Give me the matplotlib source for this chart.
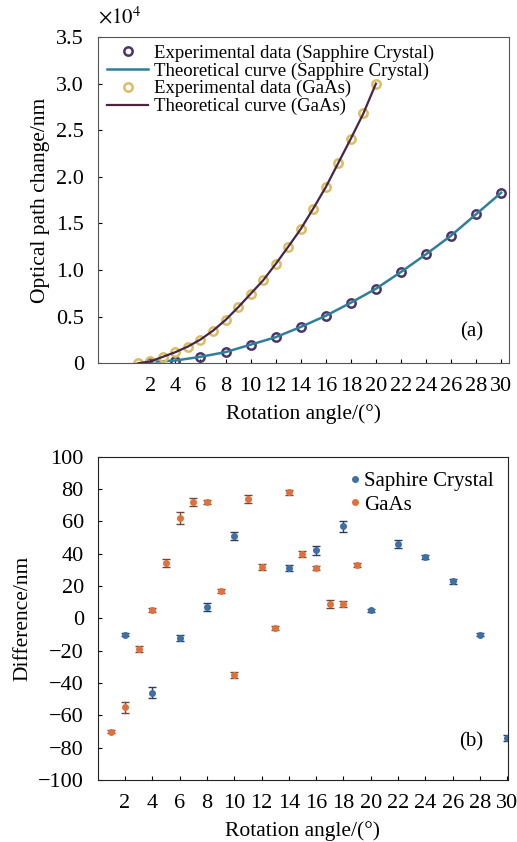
import numpy as np
import matplotlib
matplotlib.use("Agg")
import matplotlib.pyplot as plt
from matplotlib.ticker import FuncFormatter

plt.rcParams['font.family'] = ['Liberation Serif', 'DejaVu Serif']
plt.rcParams['mathtext.fontset'] = 'stix'

# ---- (a) optical path change, nm ----
angle_sap = [2, 4, 6, 8, 10, 12, 14, 16, 18, 20, 22, 24, 26, 28, 30]
opl_sap = [150, 300, 700, 1200, 2000, 2800, 3900, 5100, 6500, 8000,
           9800, 11700, 13700, 16000, 18300]
angle_gaas = list(range(1, 21))
opl_gaas = [0, 200, 700, 1200, 1800, 2550, 3500, 4650, 6000, 7450,
            8900, 10650, 12500, 14400, 16600, 18900, 21500, 24100, 26800, 30000]

# ---- (b) difference, nm ----
diff_sap_x = [2, 4, 6, 8, 10, 14, 16, 18, 20, 22, 24, 26, 28, 30]
diff_sap = [-10, -46, -12, 7, 51, 31, 42, 57, 5, 46, 38, 23, -10, -74]
diff_sap_err = [1.2, 3.5, 2, 2.5, 2.5, 1.8, 2.5, 3.5, 1, 2.5, 1.5, 1.5, 1, 1.8]
diff_gaas_x = list(range(1, 20))
diff_gaas = [-70, -55, -19, 5, 34, 62, 72, 72, 17, -35, 74, 32, -6, 78, 40, 31, 9, 9, 33]
diff_gaas_err = [1.2, 3.5, 1.8, 1.2, 2.5, 3.5, 2.5, 1.5, 1.2, 1.8, 2.5, 1.8, 1, 1.5, 1.8, 1.2, 2.5, 1.8, 1]

fig = plt.figure(figsize=(5.17, 8.42), dpi=100)

# top panel
ax1 = fig.add_axes([0.189, 0.5685, 0.795, 0.3875])
ax1.plot(angle_sap, opl_sap, 'o', ms=6, mfc='none', mec='#4a3468', mew=1.8,
         label='Experimental data (Sapphire Crystal)')
ax1.plot(angle_sap, opl_sap, '-', color='#2f7f9a', lw=1.8,
         label='Theoretical curve (Sapphire Crystal)')
ax1.plot(angle_gaas, opl_gaas, 'o', ms=6, mfc='none', mec='#d8bd62', mew=1.8,
         label='Experimental data (GaAs)')
ax1.plot(angle_gaas, opl_gaas, '-', color='#4a2345', lw=1.6,
         label='Theoretical curve (GaAs)')

ax1.set_xlim(-2.2, 30.6)
ax1.set_ylim(0, 35000)
ax1.set_xticks(range(2, 31, 2))
ax1.set_yticks(np.arange(0, 35001, 5000))
ax1.yaxis.set_major_formatter(FuncFormatter(lambda v, p: '0' if v == 0 else '%.1f' % (v / 1e4)))
ax1.tick_params(direction='in', labelsize=16, length=3, width=0.8)
ax1.tick_params(axis='y', pad=10)
ax1.tick_params(axis='x', pad=10)
for s in ax1.spines.values():
    s.set_color('#555555')
ax1.set_ylabel('Optical path change/nm', fontsize=15.5, labelpad=4)
ax1.set_xlabel('Rotation angle/(°)', fontsize=15.5, labelpad=6)
ax1.text(-2.2, 35900, r'$\times 10^4$', fontsize=15, ha='left', va='bottom')
ax1.text(0.91, 0.095, '(a)', transform=ax1.transAxes, fontsize=15, ha='center', va='center')
ax1.legend(loc='upper left', frameon=False, fontsize=13.5, handlelength=2.2,
           handletextpad=0.3, labelspacing=0.02, borderaxespad=0.1,
           bbox_to_anchor=(0.0, 1.005))

# bottom panel
ax2 = fig.add_axes([0.189, 0.0736, 0.7935, 0.384])
ax2.errorbar(diff_sap_x, diff_sap, yerr=diff_sap_err, fmt='o', ms=4,
             color='#3e6fa6', ecolor='#2c3e5c', elinewidth=1, capsize=3.2,
             label='Saphire Crystal')
ax2.errorbar(diff_gaas_x, diff_gaas, yerr=diff_gaas_err, fmt='o', ms=4,
             color='#e2703c', ecolor='#6b4a3a', elinewidth=1, capsize=3.2,
             label='GaAs')
ax2.set_xlim(0, 30.05)
ax2.set_ylim(-100, 100)
ax2.set_xticks(range(2, 31, 2))
ax2.set_yticks(range(-100, 101, 20))
ax2.yaxis.set_major_formatter(FuncFormatter(lambda v, p: ('\u2212%d' % -v) if v < 0 else '%d' % v))
ax2.tick_params(direction='in', labelsize=16, length=3, width=0.8)
ax2.tick_params(axis='y', pad=10)
ax2.tick_params(axis='x', pad=10)
for s in ax2.spines.values():
    s.set_color('#222222')
ax2.set_ylabel('Difference/nm', fontsize=15.5, labelpad=4)
ax2.set_xlabel('Rotation angle/(°)', fontsize=15.5, labelpad=6)
ax2.text(0.91, 0.118, '(b)', transform=ax2.transAxes, fontsize=15, ha='center', va='center')
h, l = ax2.get_legend_handles_labels()
ax2.legend([hh[0] for hh in h], l, loc='upper right', frameon=False, fontsize=15,
           handlelength=0.5, handletextpad=0.15, labelspacing=0.2,
           borderaxespad=0.3, markerscale=1.0)

fig.savefig('out.png', dpi=100)
